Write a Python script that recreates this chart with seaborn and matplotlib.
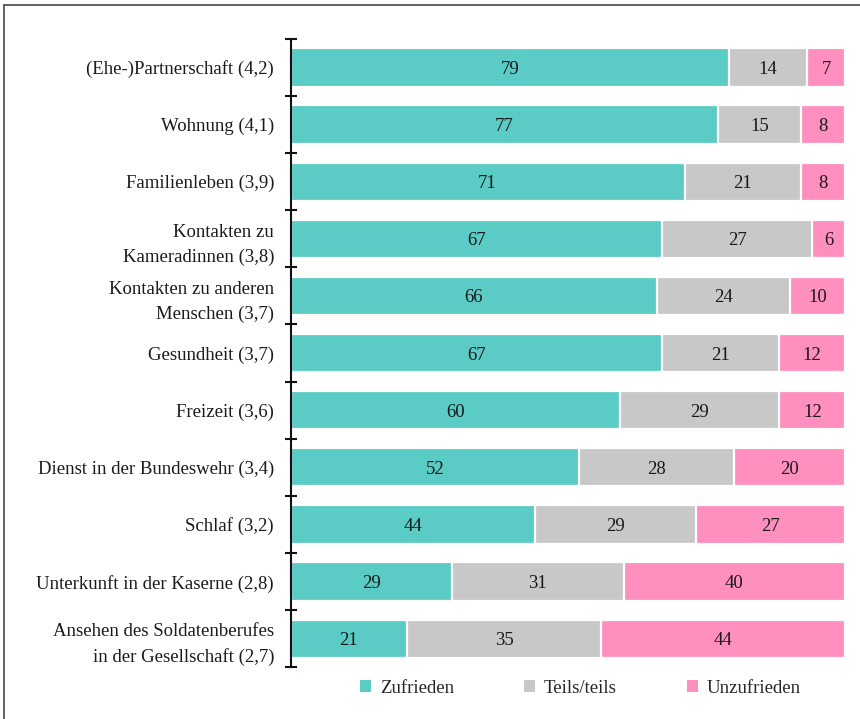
import numpy as np
import matplotlib.pyplot as plt
import seaborn as sns
from matplotlib.patches import Patch
from matplotlib.lines import Line2D

# data
categories = [
    "(Ehe-)Partnerschaft (4,2)",
    "Wohnung (4,1)",
    "Familienleben (3,9)",
    "Kontakten zu\nKameradinnen (3,8)",
    "Kontakten zu anderen\nMenschen (3,7)",
    "Gesundheit (3,7)",
    "Freizeit (3,6)",
    "Dienst in der Bundeswehr (3,4)",
    "Schlaf (3,2)",
    "Unterkunft in der Kaserne (2,8)",
    "Ansehen des Soldatenberufes\nin der Gesellschaft (2,7)",
]
zufrieden = [79, 77, 71, 67, 66, 67, 60, 52, 44, 29, 21]
teils = [14, 15, 21, 27, 24, 21, 29, 28, 29, 31, 35]
unzufrieden = [7, 8, 8, 6, 10, 12, 12, 20, 27, 40, 44]
series_names = ["Zufrieden", "Teils/teils", "Unzufrieden"]
colors = ["#5BCBC5", "#C8C8C8", "#FF8FBE"]

sns.set_style("white")
plt.rcParams["font.family"] = ["Liberation Serif", "DejaVu Serif"]
fs = 13.5

vals = np.array([zufrieden, teils, unzufrieden], dtype=float)
# rows that round to 101 are scaled back to a full bar
vals = vals / vals.sum(axis=0) * 100
cum = vals.cumsum(axis=0)

fig = plt.figure(figsize=(8.6, 7.19), dpi=100)
ax = fig.add_axes([0.338, 0.072, 0.645, 0.874])

# stacked look: draw cumulative bars from longest to shortest
for i in [2, 1, 0]:
    sns.barplot(x=cum[i], y=categories, orient="h", color=colors[i],
                edgecolor="white", linewidth=1.6, width=0.67,
                saturation=1, ax=ax)

for i in range(3):
    labels = [zufrieden, teils, unzufrieden][i]
    for j, cat in enumerate(categories):
        left = cum[i][j] - vals[i][j]
        ax.text(left + vals[i][j] / 2, j, str(labels[j]), ha="center",
                va="center_baseline", fontsize=fs, color="#1a1a1a")

ax.set_xlim(0, 100)
ax.set_ylim(len(categories) - 0.5, -0.5)
ax.set_xlabel("")
ax.set_ylabel("")
ax.set_xticks([])
for s in ["top", "right", "bottom"]:
    ax.spines[s].set_visible(False)
ax.spines["left"].set_linewidth(1.5)
ax.spines["left"].set_color("#111111")

ax.set_yticks(np.arange(-0.5, len(categories)), minor=True)
ax.tick_params(axis="y", which="minor", direction="inout", length=9,
               width=1.5, color="#111111", left=True)
ax.tick_params(axis="y", which="major", length=0, pad=12, labelsize=fs,
               labelcolor="#1a1a1a")
for t in ax.get_yticklabels():
    t.set_multialignment("right")
    t.set_linespacing(1.6)

handles = [Patch(facecolor=c, edgecolor="none") for c in colors]
fig.legend(handles, series_names, loc="center", bbox_to_anchor=(0.675, 0.043),
           ncol=3, frameon=False, fontsize=fs, handlelength=0.6,
           handleheight=0.6, handletextpad=0.45, columnspacing=3.75)

# frame lines at top and left edge
fig.add_artist(Line2D([0.005, 1.0], [0.993, 0.993], color="#555555", lw=1.3,
                      transform=fig.transFigure))
fig.add_artist(Line2D([0.005, 0.005], [0.0, 0.993], color="#555555", lw=1.3,
                      transform=fig.transFigure))

fig.savefig("out.png", dpi=100)
